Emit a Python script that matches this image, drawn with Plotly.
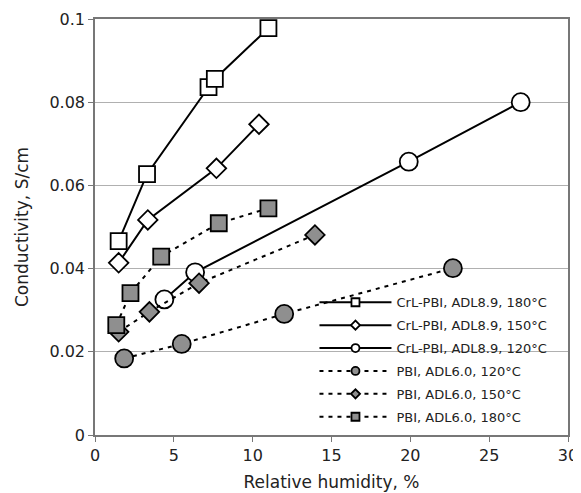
import plotly.graph_objects as go

# Data
crl180_x = [1.5, 3.3, 7.2, 7.6, 11.0]
crl180_y = [0.0466, 0.0627, 0.0836, 0.0856, 0.0978]
crl150_x = [1.5, 3.35, 7.7, 10.4]
crl150_y = [0.0414, 0.0517, 0.0641, 0.0747]
crl120_x = [4.4, 6.35, 19.9, 27.0]
crl120_y = [0.0326, 0.0391, 0.0657, 0.0800]
pbi120_x = [1.85, 5.5, 12.0, 22.7]
pbi120_y = [0.0184, 0.0219, 0.0291, 0.0401]
pbi150_x = [1.5, 3.45, 6.6, 13.95]
pbi150_y = [0.0248, 0.0296, 0.0365, 0.0481]
pbi180_x = [1.35, 2.25, 4.2, 7.85, 11.0]
pbi180_y = [0.0264, 0.0341, 0.0429, 0.0509, 0.0545]

names = ["CrL-PBI, ADL8.9, 180°C", "CrL-PBI, ADL8.9, 150°C", "CrL-PBI, ADL8.9, 120°C",
         "PBI, ADL6.0, 120°C", "PBI, ADL6.0, 150°C", "PBI, ADL6.0, 180°C"]

GRAY = "#8f8f8f"
DASH = "4px,5px"
series = [
    (crl180_x, crl180_y, "square", 16, "white", "solid"),
    (crl150_x, crl150_y, "diamond", 15, "white", "solid"),
    (crl120_x, crl120_y, "circle", 18, "white", "solid"),
    (pbi120_x, pbi120_y, "circle", 18, GRAY, DASH),
    (pbi150_x, pbi150_y, "diamond", 15, GRAY, DASH),
    (pbi180_x, pbi180_y, "square", 16, GRAY, DASH),
]

fig = go.Figure()
for (x, y, sym, sz, fill, dash), nm in zip(series, names):
    fig.add_trace(go.Scatter(
        x=x, y=y, mode="lines+markers", name=nm, showlegend=False,
        line=dict(color="black", width=2, dash=dash),
        marker=dict(symbol=sym, size=sz, color=fill, line=dict(color="black", width=1.8)),
    ))
# legend-only entries with small symbols, as in the reference legend
for i, ((x, y, sym, sz, fill, dash), nm) in enumerate(zip(series, names)):
    fig.add_trace(go.Scatter(
        x=[None], y=[None], mode="lines+markers", name=nm, legendgroup=f"g{i}",
        line=dict(color="black", width=2, dash=dash),
        marker=dict(symbol=sym, size=8 if sym != "diamond" else 7, color=fill,
                    line=dict(color="black", width=1.8)),
    ))

# white band hiding the gridline behind the legend (drawn below the data)
fig.add_shape(type="rect", xref="paper", yref="paper", x0=0.445, x1=0.99,
              y0=0.195, y1=0.205, fillcolor="white", line=dict(width=0), layer="between")

font = "DejaVu Sans, sans-serif"
fig.update_layout(
    width=573, height=485,
    margin=dict(l=87, r=13, t=11, b=58),
    paper_bgcolor="white", plot_bgcolor="white",
    font=dict(family=font, size=15, color="#222"),
    showlegend=True,
    legend=dict(x=0.464, y=0.355, xanchor="left", yanchor="top",
                bgcolor="rgba(255,255,255,0)", borderwidth=0, itemwidth=72,
                tracegroupgap=3,
                font=dict(size=13, color="#222")),
    xaxis=dict(range=[0, 30], dtick=5, showgrid=False, zeroline=False, automargin=False,
               showline=True, linecolor="#777", linewidth=1.5, mirror=True,
               ticks="outside", ticklen=5, tickcolor="#777",
               title=dict(text="Relative humidity, %", font=dict(size=17), standoff=12),
               tickfont=dict(size=16)),
    yaxis=dict(range=[0, 0.1], showgrid=True, gridcolor="#b0b0b0", gridwidth=1,
               zeroline=False, showline=True, linecolor="#777", linewidth=1.5, mirror=True,
               automargin=False,
               ticks="outside", ticklen=5, tickcolor="#777",
               tickvals=[0, 0.02, 0.04, 0.06, 0.08, 0.1],
               ticktext=["0", "0.02", "0.04", "0.06", "0.08", "0.1"],
               title=dict(text="Conductivity, S/cm", font=dict(size=17), standoff=16),
               tickfont=dict(size=16)),
)
fig.write_html("out.html")
